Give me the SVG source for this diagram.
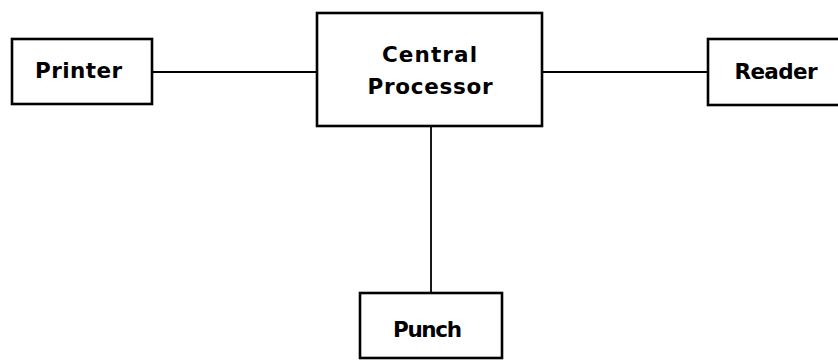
<svg xmlns="http://www.w3.org/2000/svg" width="838" height="360" viewBox="0 0 838 360">
<style>
.box{fill:#fff;stroke:#000;stroke-width:2.6}
.ln{stroke:#000;stroke-width:1.8;fill:none}
.t{font-family:"DejaVu Sans",sans-serif;font-weight:bold;font-size:21.5px;fill:#000;text-anchor:middle}
</style>
<rect width="838" height="360" fill="#fff"/>
<g id="connectors">
<line class="ln" x1="152" y1="72" x2="317" y2="72"/>
<line class="ln" x1="542" y1="72" x2="708" y2="72"/>
<line class="ln" x1="431" y1="126" x2="431" y2="293"/>
</g>
<g id="printer">
<rect class="box" x="12" y="39" width="140" height="65"/>
<text class="t" x="78.5" y="78" textLength="87" lengthAdjust="spacing">Printer</text>
</g>
<g id="central">
<rect class="box" x="317" y="13" width="225" height="113"/>
<text class="t" x="429.5" y="62" textLength="95" lengthAdjust="spacing">Central</text>
<text class="t" x="430" y="94" textLength="125" lengthAdjust="spacing">Processor</text>
</g>
<g id="reader">
<rect class="box" x="708" y="39" width="140" height="66"/>
<text class="t" x="776" y="79" textLength="83" lengthAdjust="spacing">Reader</text>
</g>
<g id="punch">
<rect class="box" x="360" y="293" width="142" height="65"/>
<text class="t" x="427.5" y="337" textLength="69" lengthAdjust="spacing">Punch</text>
</g>
</svg>
